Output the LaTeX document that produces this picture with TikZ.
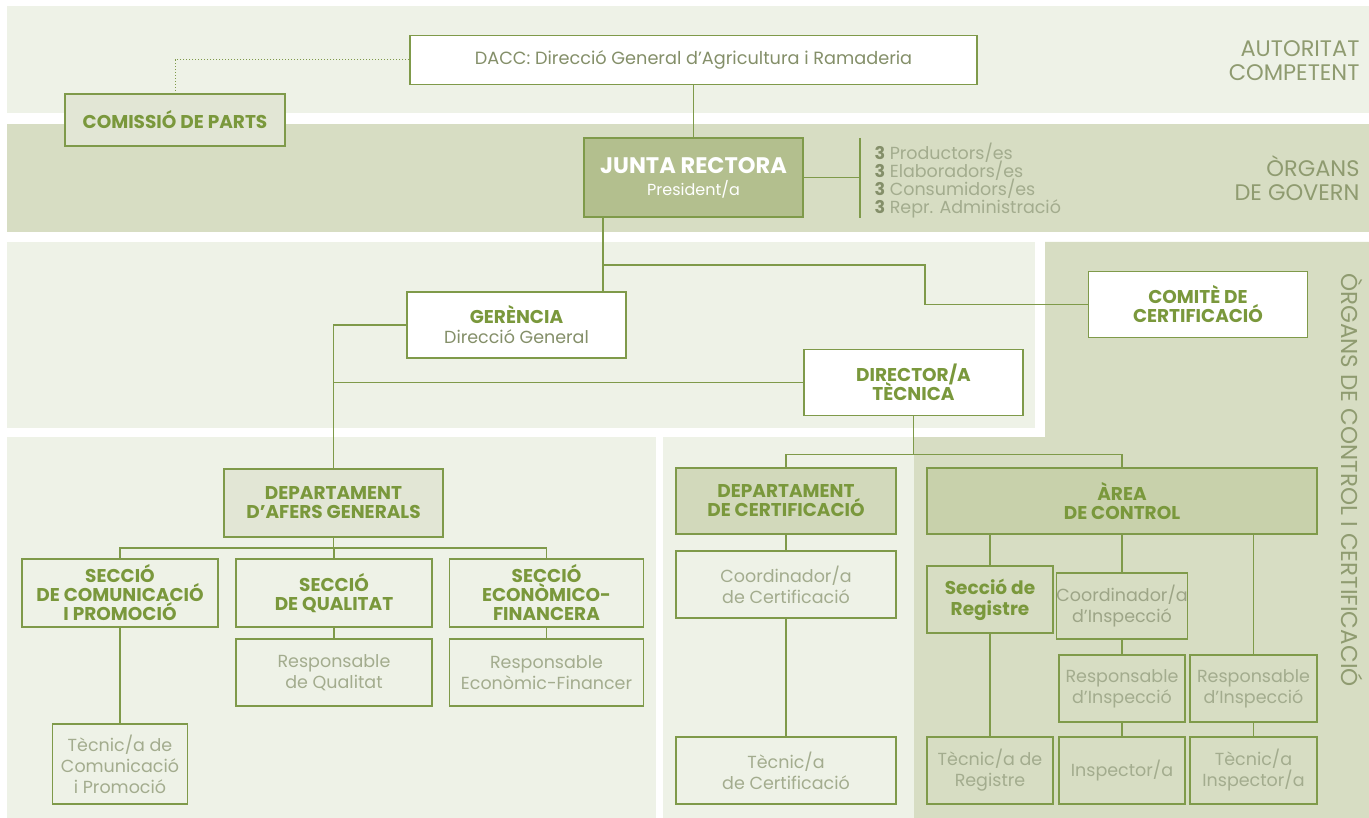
\documentclass[tikz,border=0pt]{standalone}
\usepackage{fontspec}
\setmainfont{Poppins}
\usepackage{tikz}
\usetikzlibrary{positioning}
\definecolor{bglight}{HTML}{EEF2E7}
\definecolor{bgdark}{HTML}{D7DDC3}
\definecolor{lnk}{HTML}{7F9A4A}
\definecolor{ttl}{HTML}{7A983C}
\definecolor{sub}{HTML}{A3AC8E}
\definecolor{subdark}{HTML}{848F69}
\definecolor{junfill}{HTML}{B3BF8E}
\definecolor{arefill}{HTML}{C8D1AB}
\definecolor{cerfill}{HTML}{D2D9BB}
\definecolor{afefill}{HTML}{E2E6D5}
\definecolor{side}{HTML}{8F9B70}

\begin{document}
\begin{tikzpicture}[x=1pt,y=-1pt,node distance=80pt,
	every node/.append style={execute at begin node={\lineskiplimit=-30pt}},
	box/.style={draw=lnk,line width=1.6pt,align=center,inner sep=0pt,minimum width=219pt,minimum height=66pt},
	ttlbox/.style={box,text=ttl,font=\fontsize{18.5}{19}\selectfont\bfseries},
	subbox/.style={box,text=sub,font=\fontsize{17.5}{21}\selectfont},
	conn/.style={draw=lnk,line width=1.6pt},
	sidelabel/.style={text=side,align=right,anchor=east,font=\fontsize{22.5}{24}\selectfont}]
		\useasboundingbox (0,0) rectangle (1369,818);
		%fondos
		\fill[bglight] (7,6) rectangle (1369,113);
		\fill[bgdark] (7,124) rectangle (1369,232);
		\fill[bglight] (7,242) rectangle (1035,428);
		\fill[bgdark] (1045,242) -- (1369,242) -- (1369,818) -- (914,818) -- (914,437) -- (1045,437) -- cycle;
		\fill[bglight] (7,437) rectangle (656,818);
		\fill[bglight] (663,437) rectangle (914,818);
		
		%etiquetes laterals
		\node (aut) [sidelabel] at (1363,61) {AUTORITAT\\COMPETENT};
		\node (gov) [sidelabel] at (1363,178) {ÒRGANS\\DE GOVERN};
		\node (ctl) [text=side,rotate=-90,font=\fontsize{23}{24}\selectfont] at (1352,480) {ÒRGANS DE CONTROL I CERTIFICACIÓ};
		
		%caixes
		\node (dacc) [box,fill=white,text=subdark,minimum width=567pt,minimum height=49pt,font=\fontsize{17.7}{20}\selectfont] at (693.5,60) {DACC: Direcció General d’Agricultura i Ramaderia};
		\node (comissio) [ttlbox,fill=afefill,minimum width=220pt,minimum height=52pt] at (175,120) {COMISSIÓ DE PARTS};
		\node (junta) [box,fill=junfill,text=white,minimum height=79pt,below of=dacc,node distance=117.5pt,font=\fontsize{16}{22}\selectfont] {{\fontsize{22.5}{22}\selectfont\bfseries JUNTA RECTORA}\\{\fontsize{16}{22}\selectfont President/a}};
		\coordinate (bar1) at (860,138);
		\coordinate (bar2) at (860,218);
		\node (memb) [anchor=west,align=left,text=sub,font=\fontsize{17.5}{18}\selectfont] at (871,181) {{\bfseries\color{subdark}3} Productors/es\\{\bfseries\color{subdark}3} Elaboradors/es\\{\bfseries\color{subdark}3} Consumidors/es\\{\bfseries\color{subdark}3} Repr. Administració};
		\node (gerencia) [box,fill=white,text=subdark,font=\fontsize{17.5}{20}\selectfont] at (516.5,325) {{\fontsize{18.5}{19}\selectfont\bfseries\color{ttl}GERÈNCIA}\\Direcció General};
		\node (comite) [ttlbox,fill=white] at (1198,304.5) {COMITÈ DE\\CERTIFICACIÓ};
		\node (director) [ttlbox,fill=white] at (913.5,382.5) {DIRECTOR/A\\TÈCNICA};
		
		\node (afers) [ttlbox,fill=afefill,minimum height=68pt] at (333.5,503) {DEPARTAMENT\\D’AFERS GENERALS};
		\node (seccom) [ttlbox,minimum width=196pt,minimum height=68pt] at (120,593) {SECCIÓ\\DE COMUNICACIÓ\\I PROMOCIÓ};
		\node (secqual) [ttlbox,minimum width=196pt,minimum height=68pt,right of=seccom,node distance=214pt] {SECCIÓ\\DE QUALITAT};
		\node (sececo) [ttlbox,minimum width=194pt,minimum height=68pt,right of=secqual,node distance=212.5pt] {SECCIÓ\\ECONÒMICO-\\FINANCERA};
		\node (respqual) [subbox,minimum width=196pt,minimum height=67pt,below of=secqual,node distance=79.5pt] {Responsable\\de Qualitat};
		\node (respeco) [subbox,minimum width=194pt,minimum height=67pt,below of=sececo,node distance=79.5pt] {Responsable\\Econòmic-Financer};
		\node (tecom) [subbox,minimum width=135pt,minimum height=80pt,below of=seccom,node distance=171pt] {Tècnic/a de\\Comunicació\\i Promoció};
		
		\node (deptcert) [ttlbox,fill=cerfill,minimum width=220pt] at (786,501) {DEPARTAMENT\\DE CERTIFICACIÓ};
		\node (coordcert) [subbox,minimum width=220pt,minimum height=67pt,below of=deptcert,node distance=83.5pt] {Coordinador/a\\de Certificació};
		\node (teccert) [subbox,minimum width=220pt,minimum height=67pt,below of=coordcert,node distance=186pt] {Tècnic/a\\de Certificació};
		
		\node (area) [ttlbox,fill=arefill,minimum width=390pt] at (1122,501) {ÀREA\\DE CONTROL};
		\node (secreg) [ttlbox,fill=bgdark,minimum width=126pt,minimum height=67pt,font=\fontsize{18.5}{21}\selectfont\bfseries] at (990,599.5) {Secció de\\Registre};
		\node (coordinsp) [subbox,text=subdark!80,minimum width=126pt] at (1122,606) {Coordinador/a\\d’Inspecció};
		\node (respinsp1) [subbox,minimum width=126pt,minimum height=67pt,below of=coordinsp,node distance=82.5pt] {Responsable\\d’Inspecció};
		\node (respinsp2) [subbox,minimum width=127pt,minimum height=67pt,right of=respinsp1,node distance=131.5pt] {Responsable\\d’Inspecció};
		\node (tecreg) [subbox,minimum width=126pt,minimum height=67pt,below of=secreg,node distance=171pt] {Tècnic/a de\\Registre};
		\node (inspector) [subbox,minimum width=126pt,minimum height=67pt,below of=respinsp1,node distance=82pt] {Inspector/a};
		\node (tecinsp) [subbox,minimum width=127pt,minimum height=67pt,below of=respinsp2,node distance=82pt] {Tècnic/a\\Inspector/a};
		
		%connexions
		\draw[draw=lnk,line width=1pt,dotted] (dacc.west) -| (comissio.north);
		\draw[conn] (dacc.south) -- (junta.north);
		\draw[conn] (junta.east) -- (junta.east -| bar1);
		\draw[conn] (bar1) -- (bar2);
		\coordinate (jr) at (603,265);
		\coordinate (jc) at (925,265);
		\draw[conn] (junta.south -| jr) -- (gerencia.north -| jr);
		\draw[conn] (jr) -| (jc |- comite.west) -- (comite.west);
		\draw[conn] (gerencia.west) -| (afers.north);
		\draw[conn] (director.west) -- (director.west -| afers.north);
		\draw[conn] (director.south) -- ++(0,38) coordinate (dj);
		\draw[conn] (dj) -| (deptcert.north);
		\draw[conn] (dj) -| (area.north);
		\draw[conn] (afers.south) -- ++(0,10) coordinate (aj);
		\draw[conn] (aj) -| (seccom.north);
		\draw[conn] (aj) -| (secqual.north);
		\draw[conn] (aj) -| (sececo.north);
		\draw[conn] (seccom.south) -- (tecom.north);
		\draw[conn] (secqual.south) -- (respqual.north);
		\draw[conn] (sececo.south) -- (respeco.north);
		\draw[conn] (deptcert.south) -- (coordcert.north);
		\draw[conn] (coordcert.south) -- (teccert.north);
		\draw[conn] (area.south -| secreg.north) -- (secreg.north);
		\draw[conn] (area.south -| coordinsp.north) -- (coordinsp.north);
		\draw[conn] (area.south -| respinsp2.north) -- (respinsp2.north);
		\draw[conn] (secreg.south) -- (tecreg.north);
		\draw[conn] (coordinsp.south) -- (respinsp1.north);
		\draw[conn] (respinsp1.south) -- (inspector.north);
		\draw[conn] (respinsp2.south) -- (tecinsp.north);
	\end{tikzpicture}
\end{document}
